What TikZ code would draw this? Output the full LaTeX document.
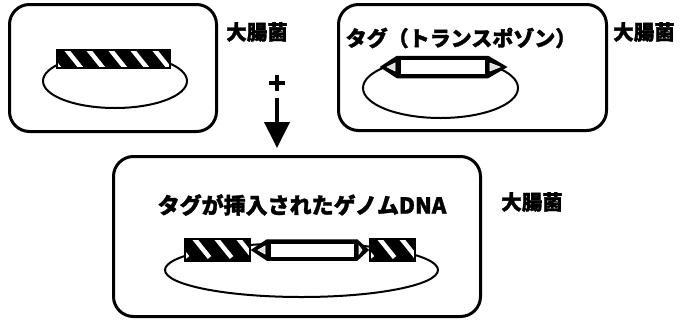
\documentclass[tikz,border=0pt]{standalone}
\usepackage{fontspec}
\newfontfamily\cjk{Noto Sans CJK JP}[BoldFeatures={FakeBold=1.5}]
\usetikzlibrary{arrows.meta}
\tikzset{
  cellbox/.style={draw, line width=3pt, rounded corners=20pt, inner sep=0pt},
  lbl/.style={inner sep=0pt, font=\cjk\bfseries\fontsize{20.5}{24}\selectfont},
  genome/.style={draw, line width=2pt},
}
\newcommand\stripebar[4]{%
  \fill[black] (#1,#2) rectangle (#3,#4);
  \begin{scope}
    \clip (#1,#2) rectangle (#3,#4);
    \foreach \k in {-1,...,6}{
      \draw[white, line width=4.5pt] ({#1+8+22*\k},{#2-2}) -- ++(16.5,20.5);
    }
  \end{scope}
  \draw[line width=1.5pt] (#1,#2) rectangle (#3,#4);
}
\newcommand\transposon[6]{% ltip, r1, r2, rtip, yc, h
  \filldraw[line width=1.5pt, line join=miter] (#1,#5) -- (#2,{#5-#6}) -- (#3,{#5-#6}) -- (#4,#5) -- (#3,{#5+#6}) -- (#2,{#5+#6}) -- cycle;
  \fill[white] ({#2+3.5},{#5-#6+3.5}) rectangle ({#3-3.5},{#5+#6-3.5});
  \filldraw[fill=gray!25, draw=white, line width=0.6pt] ({#1+6},#5) -- ({#2-2},{#5-4}) -- ({#2-2},{#5+4}) -- cycle;
  \filldraw[fill=gray!25, draw=white, line width=0.6pt] ({#4-6},#5) -- ({#3+2},{#5-4}) -- ({#3+2},{#5+4}) -- cycle;
}
\begin{document}
\begin{tikzpicture}[x=1pt, y=-1pt]
\useasboundingbox (0,0) rectangle (685,322);
% boxes
\node[cellbox, minimum width=207pt, minimum height=127pt] (b1) at (113,68) {};
\node[cellbox, minimum width=268pt, minimum height=126pt] (b2) at (472.5,67.5) {};
\node[cellbox, minimum width=367pt, minimum height=160pt] (b3) at (297,236.5) {};
% labels
\node[lbl] (e1) at (257,32) {大腸菌};
\node[lbl] (e2) at (644,32) {大腸菌};
\node[lbl] (e3) at (532,202) {大腸菌};
\node[lbl, font=\cjk\bfseries\fontsize{21}{24}\selectfont] (t2) at (461,38) {タグ（トランスポゾン）};
\node[lbl, font=\cjk\bfseries\fontsize{22}{26}\selectfont] (t3) at (302,205) {タグが挿入されたゲノムDNA};
% box 1 content
\draw[genome] (115,81) ellipse [x radius=72, y radius=27];
\stripebar{57}{50}{170}{68}
% box 2 content
\draw[genome] (440.5,88) ellipse [x radius=77.5, y radius=30];
\transposon{381}{397}{488}{506}{67}{10.5}
% box 3 content
\draw[genome] (301.5,270) ellipse [x radius=136.5, y radius=27];
\stripebar{185}{239}{250}{261}
\stripebar{370}{239}{415}{261}
\transposon{252}{267}{357}{368}{250}{10}
% plus and arrow
\node[inner sep=0pt] (plus) at (277,82) {};
\draw[line width=4pt] (269,82.5) -- (285,82.5) (277,74.5) -- (277,90.5);
\coordinate (as) at (277,98);
\coordinate (ae) at (277,148);
\draw[line width=4pt, -{Triangle[length=26pt, width=25pt]}] (as) -- (ae);
\end{tikzpicture}
\end{document}
